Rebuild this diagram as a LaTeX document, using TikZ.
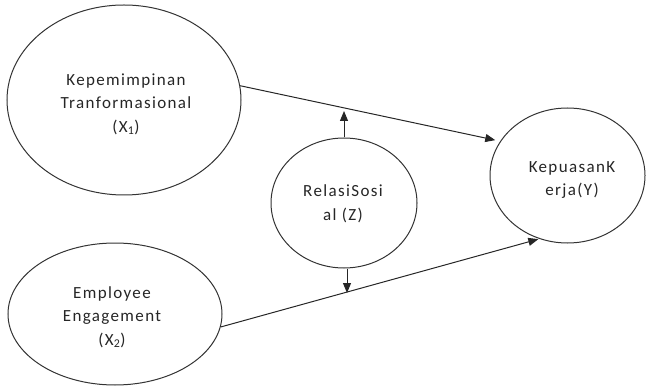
\documentclass[tikz,border=0pt]{standalone}
\usepackage{fontspec}
\setmainfont{Carlito}[LetterSpace=8]
\usetikzlibrary{shapes.geometric,arrows.meta}
\begin{document}
\begin{tikzpicture}[x=1pt,y=-1pt,
  var/.style={ellipse,draw=black!80,line width=1pt,inner sep=0pt},
  lbl/.style={align=center,inner sep=0pt,
    font={\fontsize{17}{23.5}\selectfont},text=black!85},
  arr/.style={draw=black!85,line width=1pt,-{Triangle[length=10pt,width=8pt]}}]
\useasboundingbox (0,0) rectangle (647,387);
\node[var,minimum width=234pt,minimum height=190pt] (x1) at (124,100) {};
\node[var,minimum width=214pt,minimum height=142pt] (x2) at (115,314) {};
\node[var,minimum width=146pt,minimum height=130pt] (z) at (344,203) {};
\node[var,minimum width=155pt,minimum height=135pt] (y) at (567.5,175.5) {};
\node[lbl] (x1t) at (126,104) {Kepemimpinan\\Tranformasional\\(X\textsubscript{1})};
\node[lbl] (x2t) at (112,317) {Employee\\Engagement\\(X\textsubscript{2})};
\node[lbl] (zt0) at (343,204) {RelasiSosi\\al (Z)};
\node[lbl] (yt) at (572,180) {KepuasanK\\erja(Y)};
\coordinate (zt) at (344,111);
\coordinate (zb) at (347,293);
\draw[arr,shorten >=5pt] (x1.7) -- (y.153);
\draw[arr,shorten >=1pt] (x2.-7) -- (y.246);
\draw[arr] (z.north) -- (zt);
\draw[arr] (z.south -| zb) -- (zb);
\end{tikzpicture}
\end{document}
